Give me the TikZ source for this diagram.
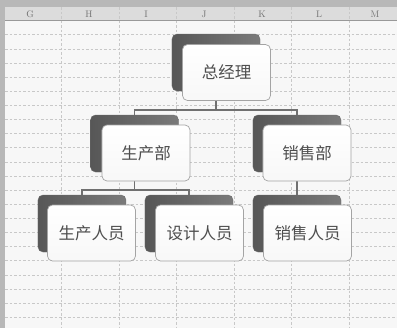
\documentclass[tikz,border=0pt]{standalone}
\usepackage{fontspec}
\newfontfamily\cjk{Noto Sans CJK SC}
\definecolor{gridc}{HTML}{C8C8C8}
\definecolor{hdrc}{HTML}{DCDCDC}
\definecolor{edgec}{HTML}{B8B8B8}
\definecolor{txtc}{HTML}{4E4E4E}
\definecolor{conc}{HTML}{707070}
\definecolor{bordc}{HTML}{A4A4A4}
\tikzset{
  gridline/.style={draw=gridc, dashed, dash pattern=on 2.5bp off 2bp, line width=0.5bp},
  backbox/.style={rectangle, rounded corners=5bp, minimum width=88bp, minimum height=57bp,
    left color=black!66, right color=black!52, draw=black!58, line width=0.4bp, inner sep=0pt},
  frontbox/.style={rectangle, rounded corners=5bp, minimum width=88bp, minimum height=56bp,
    top color=white, bottom color=black!3, draw=bordc, line width=0.7bp, inner sep=0pt,
    font=\cjk\fontsize{16.5bp}{18bp}\selectfont, text=txtc},
  conn/.style={draw=conc, line width=1.1bp},
  colhdr/.style={font=\fontsize{9.5bp}{10bp}\selectfont, text=black!55, inner sep=0pt}
}
\begin{document}
\begin{tikzpicture}[x=1bp,y=-1bp]
\useasboundingbox (0,0) rectangle (397,328);
\fill[white!97!black] (0,0) rectangle (397,328);
% header and left strip
\fill[edgec] (0,0) rectangle (397,7);
\fill[edgec] (0,0) rectangle (5,328);
\fill[hdrc] (5,7) rectangle (397,20.5);
\draw[black!40, line width=0.5bp] (5,20.5) -- (397,20.5);
% grid
\foreach \k in {1,...,21} { \draw[gridline] (5,20.5+\k*14.13) -- (397,20.5+\k*14.13); }
\foreach \xx in {61.5,119,176.5,234,291.5,349} { \draw[gridline] (\xx,7) -- (\xx,328); }
% column letters
\node[colhdr] (cG) at (30,14) {G};
\node[colhdr] (cH) at (89,14) {H};
\node[colhdr] (cI) at (146,14) {I};
\node[colhdr] (cJ) at (204,14) {J};
\node[colhdr] (cK) at (262,14) {K};
\node[colhdr] (cL) at (319,14) {L};
\node[colhdr] (cM) at (375,14) {M};
% shadow boxes
\node[backbox] (zjlS) at (216,62.5) {};
\node[backbox] (scbS) at (134.5,143.5) {};
\node[backbox] (xsbS) at (297,143.5) {};
\node[backbox] (scryS) at (82,223.5) {};
\node[backbox] (sjryS) at (189,223.5) {};
\node[backbox] (xsryS) at (297,223.5) {};
% connectors
\draw[conn] (zjlS.south) -- (zjlS.south |- 0,110) -| (scbS.north);
\draw[conn] (zjlS.south |- 0,110) -| (xsbS.north);
\draw[conn] (scbS.south) -- (scbS.south |- 0,190) -| (scryS.north);
\draw[conn] (scbS.south |- 0,190) -| (sjryS.north);
\draw[conn] (xsbS.south) -- (xsryS.north);
% front boxes
\node[frontbox] (zjl) at (226.5,72.5) {总经理};
\node[frontbox] (scb) at (146,153) {生产部};
\node[frontbox] (xsb) at (307,153) {销售部};
\node[frontbox] (scry) at (91.5,233) {生产人员};
\node[frontbox] (sjry) at (199.5,233) {设计人员};
\node[frontbox] (xsry) at (307.5,233) {销售人员};
\end{tikzpicture}
\end{document}
